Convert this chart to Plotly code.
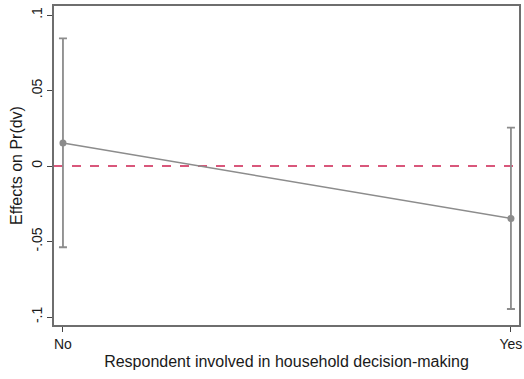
import plotly.graph_objects as go

# Marginal effects with 95% confidence intervals
categories = ["No", "Yes"]
x_pos = [0, 1]
effects = [0.0152, -0.0347]
ci_upper = [0.0845, 0.0254]
ci_lower = [-0.0538, -0.0947]

y_tickvals = [-0.1, -0.05, 0, 0.05, 0.1]
y_ticktext = ["-.1", "-.05", "0", ".05", ".1"]

gray = "#8c8c8c"
font = "Liberation Sans, Arial, sans-serif"

fig = go.Figure()

# reference line at zero
fig.add_shape(type="line", xref="paper", yref="y", x0=0, x1=1, y0=0, y1=0,
              line=dict(color="#d9577b", width=2, dash="dash"), layer="below")

fig.add_trace(go.Scatter(
    x=x_pos, y=effects, mode="lines+markers",
    line=dict(color=gray, width=1.6),
    marker=dict(color=gray, size=7),
    error_y=dict(type="data", symmetric=False,
                 array=[u - e for u, e in zip(ci_upper, effects)],
                 arrayminus=[e - l for e, l in zip(effects, ci_lower)],
                 color=gray, thickness=1.8, width=4),
    showlegend=False,
))

fig.update_layout(
    width=524, height=379,
    margin=dict(l=54, r=3, t=6, b=54),
    paper_bgcolor="white", plot_bgcolor="white",
    font=dict(family=font, size=14, color="#1a1a1a"),
    xaxis=dict(
        range=[-0.02, 1.018], tickvals=x_pos, ticktext=categories,
        showgrid=False, zeroline=False, ticks="outside", ticklen=5,
        tickcolor="#444444", showline=True, linecolor="#6e6e6e", linewidth=1.5,
        mirror=True,
        title=dict(text="Respondent involved in household decision-making",
                   font=dict(size=16), standoff=5),
    ),
    yaxis=dict(
        range=[-0.1053, 0.106], tickvals=y_tickvals, ticktext=y_ticktext,
        tickangle=-90, showgrid=False, zeroline=False, ticks="outside",
        ticklen=5, tickcolor="#444444", showline=True, linecolor="#6e6e6e",
        linewidth=1.5, mirror=True,
        title=dict(text="Effects on Pr(dv)", font=dict(size=16), standoff=2),
    ),
)

fig.write_html("out.html")
